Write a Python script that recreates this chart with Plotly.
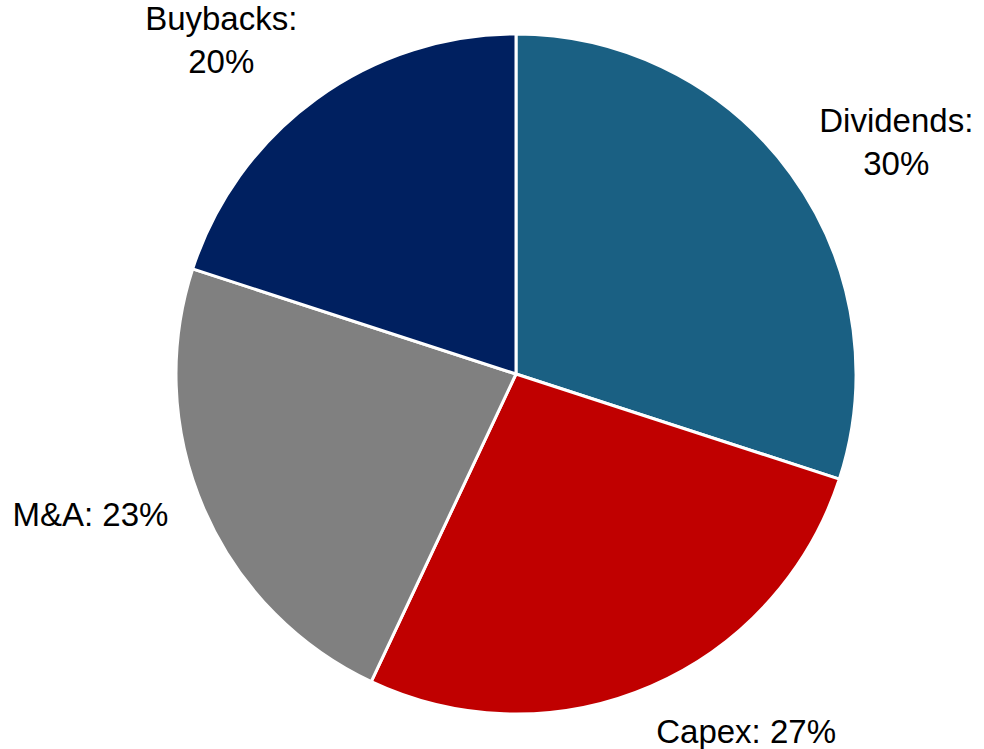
import plotly.graph_objects as go

# ---- data ----
categories = ["Dividends", "Capex", "M&A", "Buybacks"]
values = [30, 27, 23, 20]
colors = ["#1A6083", "#C00000", "#808080", "#002060"]
label_breaks = ["<br>", " ", " ", "<br>"]

texts = [f"{c}:{b}{v}%" for c, b, v in zip(categories, label_breaks, values)]

# ---- layout / style ----
W, H = 984, 749
cx, cy = 516, 374            # pie centre in px (from top-left)
r_pie = 340                  # visible pie radius
# transparent rings that carry each outside label: (centre x, centre y, radius)
label_rings = [(508, 367, 360), (504, 386, 360), (508, 369, 360), (517.2, 340.8, 340)]


def dom(x0, y0, r):
    return dict(x=[(x0 - r) / W, (x0 + r) / W],
                y=[(H - y0 - r) / H, (H - y0 + r) / H])


font = dict(family="Liberation Sans, Arial, sans-serif", size=33, color="black")

fig = go.Figure()
# visible pie
fig.add_trace(go.Pie(
    labels=categories, values=values, sort=False, direction="clockwise",
    rotation=0, textinfo="none", domain=dom(cx, cy, r_pie), automargin=False,
    marker=dict(colors=colors, line=dict(color="white", width=3)),
    showlegend=False, hoverinfo="label+percent",
))
# one transparent ring per label, showing only that slice's outside label
for i, (lx, ly, lr) in enumerate(label_rings):
    fig.add_trace(go.Pie(
        labels=categories, values=values, sort=False, direction="clockwise",
        rotation=0, text=texts, textinfo="text", automargin=False,
        textposition=["outside" if j == i else "none" for j in range(len(values))],
        outsidetextfont=font, textfont=font, domain=dom(lx, ly, lr),
        marker=dict(colors=["rgba(0,0,0,0)"] * len(values), line=dict(width=0)),
        showlegend=False, hoverinfo="skip",
    ))

fig.update_layout(
    width=W, height=H,
    margin=dict(l=0, r=0, t=0, b=0, autoexpand=False),
    paper_bgcolor="white", plot_bgcolor="white",
    showlegend=False,
)

fig.write_html("out.html", post_script="document.body.style.margin='0';",
               config={"displayModeBar": False})
